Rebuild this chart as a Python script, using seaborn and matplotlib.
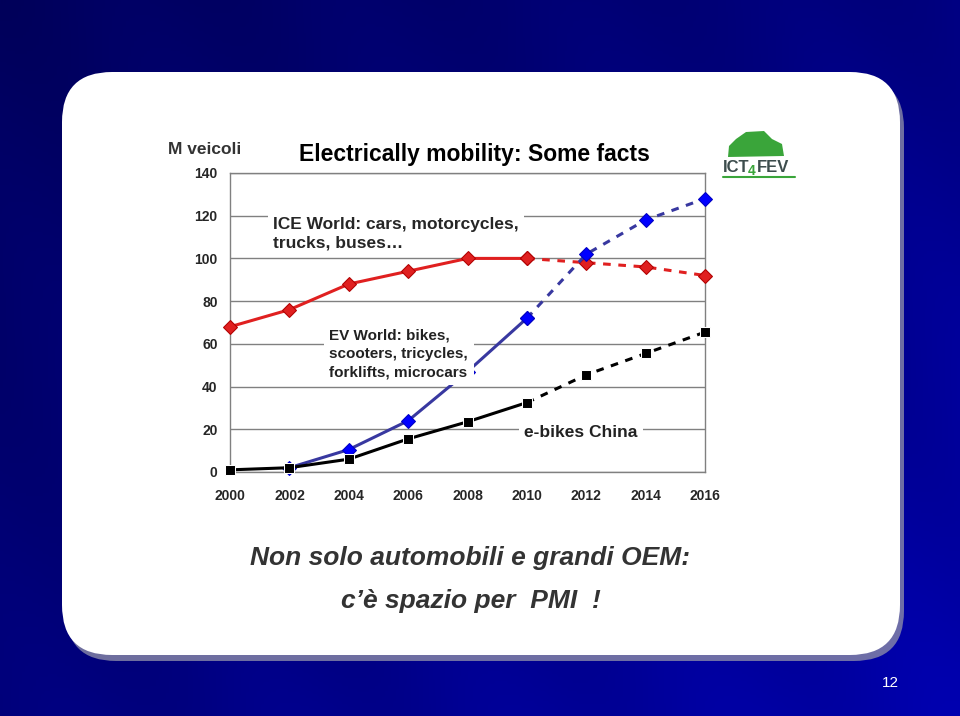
import numpy as np
import pandas as pd
import matplotlib
matplotlib.use("Agg")
import matplotlib.pyplot as plt
from matplotlib.patches import FancyBboxPatch, Polygon
from matplotlib.colors import LinearSegmentedColormap
import seaborn as sns

sns.set_style("white")
plt.rcParams['font.family'] = ['Liberation Sans', 'DejaVu Sans']

# data (millions of vehicles)
years = [2000, 2002, 2004, 2006, 2008, 2010, 2012, 2014, 2016]
ice_world = [68, 76, 88, 94, 100, 100, 98, 96, 92]
ev_world = [np.nan, 2, 10.5, 24, 47, 72, 102, 118, 128]
ebikes_china = [1, 2, 6, 15.5, 23.5, 32.5, 45.5, 55.5, 65.5]
last_actual = 2010   # after this year the lines are forecasts (dashed)

df = pd.DataFrame({"year": years, "ice": ice_world, "ev": ev_world, "ebikes": ebikes_china})
past = df[df["year"] <= last_actual]
future = df[df["year"] >= last_actual]

fig = plt.figure(figsize=(9.6, 7.16), dpi=100)

# slide background, pixel coordinates
bg = fig.add_axes([0, 0, 1, 1], zorder=0)
bg.set_xlim(0, 960)
bg.set_ylim(0, 716)
bg.set_axis_off()
gx, gy = np.meshgrid(np.linspace(0, 1, 320), np.linspace(0, 1, 240))
shade = 0.55 * gx + 0.45 * (1 - gy) + 0.05 * np.sin((gx * 3 + gy * 1.2) * 9)
blues = LinearSegmentedColormap.from_list("slide", ["#00005a", "#00007e", "#0000b0"])
bg.imshow(shade, extent=(0, 960, 0, 716), origin="lower", aspect="auto", cmap=blues)

# white panel with a soft shadow
bg.add_patch(FancyBboxPatch((66, 55), 838, 583, boxstyle="round,pad=0,rounding_size=50",
                            facecolor="#8a8aa8", edgecolor="none", alpha=0.8))
bg.add_patch(FancyBboxPatch((62, 61), 838, 583, boxstyle="round,pad=0,rounding_size=50",
                            facecolor="white", edgecolor="none"))

# header texts
bg.text(168, 566, "M veicoli", fontsize=12.5, fontweight="bold", color="#333333", ha="left", va="center")
bg.text(474, 561, "Electrically mobility: Some facts", fontsize=16.5, fontweight="bold",
        color="black", ha="center", va="center")

# ICT4FEV logo
car = [(728, 559), (729, 570), (736, 577), (746, 584), (764, 585), (772, 577), (782, 572), (784, 560)]
bg.add_patch(Polygon(car, closed=True, facecolor="#3aa53a", edgecolor="none"))
bg.text(723, 549, "ICT", fontsize=12, fontweight="bold", color="#3d4d4d", ha="left", va="center")
bg.text(748, 545, "4", fontsize=10, fontweight="bold", color="#3aa53a", ha="left", va="center")
bg.text(757, 549, "FEV", fontsize=12, fontweight="bold", color="#3d4d4d", ha="left", va="center")
bg.plot([723, 795], [539, 539], color="#3aa53a", lw=1.5)

# bottom message
bg.text(470, 158, "Non solo automobili e grandi OEM:", fontsize=19, fontweight="bold",
        fontstyle="italic", color="#333333", ha="center", va="center")
bg.text(471, 115, "c\u2019\u00e8 spazio per  PMI  !", fontsize=19, fontweight="bold",
        fontstyle="italic", color="#333333", ha="center", va="center")
bg.text(890, 33, "12", fontsize=11, color="white", ha="center", va="center")

# the chart
ax = fig.add_axes([0.2396, 0.3408, 0.4948, 0.4176], zorder=2)
ax.set_facecolor("none")

red, red_edge = "#e02020", "#b00000"
navy, blue = "#3838a0", "#0000ff"

sns.lineplot(data=past, x="year", y="ice", ax=ax, color=red, lw=2.2, marker="D", markersize=7,
             markerfacecolor=red, markeredgecolor=red_edge, clip_on=False, zorder=3)
sns.lineplot(data=future, x="year", y="ice", ax=ax, color=red, lw=2.2, linestyle=(0, (2.5, 2.5)),
             marker="D", markersize=7, markerfacecolor=red, markeredgecolor=red_edge,
             clip_on=False, zorder=3)

sns.lineplot(data=past.dropna(), x="year", y="ev", ax=ax, color=navy, lw=2.2, marker="D", markersize=7,
             markerfacecolor=blue, markeredgecolor="#0000c0", clip_on=False, zorder=3)
sns.lineplot(data=future, x="year", y="ev", ax=ax, color=navy, lw=2.2, linestyle=(0, (2.5, 2.5)),
             marker="D", markersize=7, markerfacecolor=blue, markeredgecolor="#0000c0",
             clip_on=False, zorder=3)

sns.lineplot(data=past, x="year", y="ebikes", ax=ax, color="black", lw=2.2, marker="s", markersize=6.5,
             clip_on=False, zorder=3.5)
sns.lineplot(data=future, x="year", y="ebikes", ax=ax, color="black", lw=2.2, linestyle=(0, (2.5, 2.5)),
             marker="s", markersize=6.5, clip_on=False, zorder=3.5)

ax.set_xlim(2000, 2016)
ax.set_ylim(0, 140)
ax.set_xticks(years)
ax.set_yticks(range(0, 141, 20))
ax.set_xlabel("")
ax.set_ylabel("")
ax.grid(axis="y", color="#808080", lw=1)
ax.grid(axis="x", visible=False)
for side in ax.spines.values():
    side.set_color("#808080")
    side.set_linewidth(1)
ax.tick_params(axis="both", direction="out", length=4, color="#808080", labelsize=10)
ax.tick_params(axis="x", pad=8)
ax.tick_params(axis="y", pad=5)
for lab in ax.get_xticklabels() + ax.get_yticklabels():
    lab.set_fontweight("bold")

box = dict(facecolor="white", edgecolor="none", pad=4)
# ICE label sits under the lines (only hides the gridline), EV label covers the blue line
ax.text(2001.45, 119.5, "ICE World: cars, motorcycles,\ntrucks, buses\u2026", fontsize=12.5,
        fontweight="bold", ha="left", va="top", linespacing=1.28, bbox=box, zorder=2.5)
ax.text(2003.35, 67, "EV World: bikes,\nscooters, tricycles,\nforklifts, microcars", fontsize=11,
        fontweight="bold", color="#222222", ha="left", va="top", linespacing=1.38, bbox=box, zorder=5)
ax.text(2011.82, 18.7, "e-bikes China", fontsize=12.5, fontweight="bold", color="#222222",
        ha="center", va="center", bbox=box, zorder=5)

fig.savefig("out.png", dpi=100)
